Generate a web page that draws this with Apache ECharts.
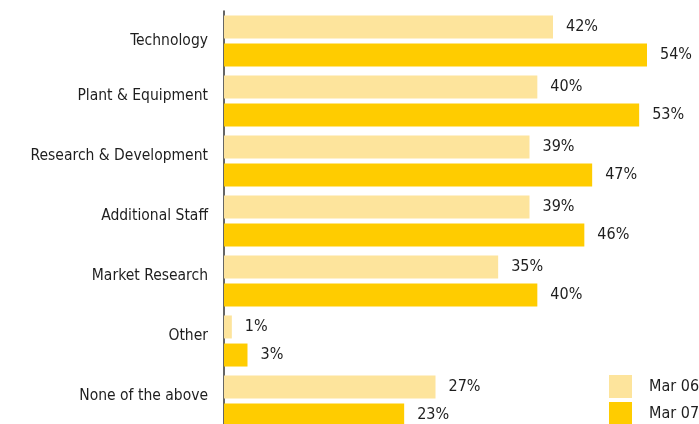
<!DOCTYPE html>
<html><head><meta charset="utf-8">
<script src="https://cdn.jsdelivr.net/npm/echarts@6/dist/echarts.min.js"></script>
<style>html,body{margin:0;padding:0;background:#fff}#c{width:699px;height:424px}</style>
</head><body><div id="c"></div>
<script>
var categories = ["Technology","Plant & Equipment","Research & Development","Additional Staff","Market Research","Other","None of the above"];
var seriesNames = ["Mar 06","Mar 07"];
var mar06 = [42,40,39,39,35,1,27];
var mar07 = [54,53,47,46,40,3,23];
var colors = ["#FDE49C","#FFCC00"];
var font = "DejaVu Sans Condensed";
var chart = echarts.init(document.getElementById('c'));
function mk(name, data, color){
  return {name:name,type:'bar',data:data,barWidth:23,barGap:'22%',
    itemStyle:{color:color},
    label:{show:true,position:'right',distance:13,formatter:'{c}%',color:'#1e1e1e',fontSize:16,fontFamily:font}};
}
var catData = categories.map(function(c,i){
  return i===0 ? {value:c,textStyle:{lineHeight:2}} : c;
});
function legendItem(i, top){
  return {orient:'vertical',left:609,top:top,itemWidth:23,itemHeight:23,icon:'rect',padding:0,
    textStyle:{fontSize:16,color:'#1e1e1e',fontFamily:font,padding:[0,0,0,12]},data:[seriesNames[i]],selectedMode:false};
}
chart.setOption({
  animation:false,
  grid:{left:224,top:11,width:470,height:420,containLabel:false,outerBoundsMode:'none'},
  xAxis:{type:'value',min:0,max:60,show:false},
  yAxis:{type:'category',data:catData,inverse:true,
    axisLine:{lineStyle:{color:'#333',width:1.5}},axisTick:{show:false},
    axisLabel:{margin:16,color:'#1e1e1e',fontSize:15.5,fontFamily:font,verticalAlign:'bottom',lineHeight:10}},
  legend:[legendItem(0,375),legendItem(1,402)],
  series:[mk(seriesNames[0],mar06,colors[0]),mk(seriesNames[1],mar07,colors[1])]
});
</script></body></html>
